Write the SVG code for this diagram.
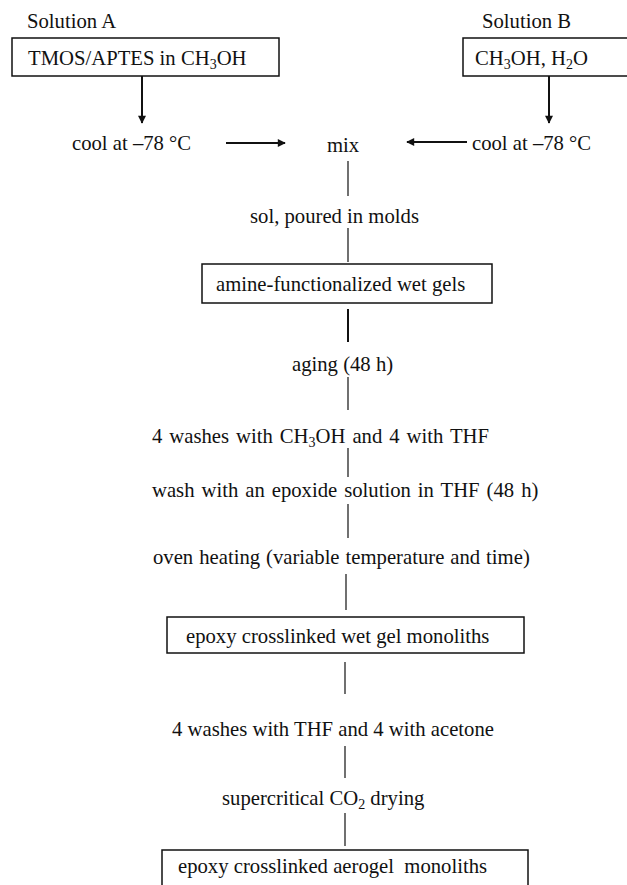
<svg xmlns="http://www.w3.org/2000/svg" width="627" height="885" viewBox="0 0 627 885">
<defs>
<style>
text{font-family:"Liberation Serif","Times New Roman",serif;font-size:20.7px;fill:#111;white-space:pre}
.box{fill:#fff;stroke:#111;stroke-width:1.5}
.ln{stroke:#111;stroke-width:1.2;fill:none}
.ar{stroke:#111;stroke-width:2;fill:none}
.sub{font-size:14px}
</style>
<marker id="ah" viewBox="0 0 10 10" refX="9" refY="5" markerWidth="10" markerHeight="8" orient="auto" markerUnits="userSpaceOnUse">
<path d="M0,0 L10,5 L0,10 z" fill="#111"/>
</marker>
</defs>
<rect width="627" height="885" fill="#fff"/>
<g id="connectors">
<line class="ar" x1="142" y1="76" x2="142" y2="123" marker-end="url(#ah)"/>
<line class="ar" x1="549" y1="76" x2="549" y2="123" marker-end="url(#ah)"/>
<line class="ar" x1="226" y1="143" x2="285" y2="143" marker-end="url(#ah)"/>
<line class="ar" x1="467" y1="142" x2="407" y2="142" marker-end="url(#ah)"/>
<line class="ln" x1="348" y1="161" x2="348" y2="196"/>
<line class="ln" x1="348" y1="228" x2="348" y2="262"/>
<line class="ln" x1="348" y1="309" x2="348" y2="342" style="stroke-width:2"/>
<line class="ln" x1="348" y1="377" x2="348" y2="410"/>
<line class="ln" x1="348" y1="448" x2="348" y2="477"/>
<line class="ln" x1="348" y1="504" x2="348" y2="538"/>
<line class="ln" x1="346" y1="574" x2="346" y2="610"/>
<line class="ln" x1="345" y1="662" x2="345" y2="694"/>
<line class="ln" x1="345" y1="746" x2="345" y2="778"/>
<line class="ln" x1="345" y1="813" x2="345" y2="846"/>
</g>
<g id="solutionA">
<text x="27" y="28">Solution A</text>
<rect class="box" x="12" y="38" width="267" height="38"/>
<text x="28" y="65">TMOS/APTES in CH<tspan class="sub" dy="4">3</tspan><tspan dy="-4">OH</tspan></text>
</g>
<g id="solutionB">
<text x="482" y="28">Solution B</text>
<rect class="box" x="463" y="38" width="172" height="38"/>
<text x="475" y="65">CH<tspan class="sub" dy="4">3</tspan><tspan dy="-4">OH, H</tspan><tspan class="sub" dy="4">2</tspan><tspan dy="-4">O</tspan></text>
</g>
<g id="coolA"><text x="72" y="150">cool at –78 °C</text></g>
<g id="mix"><text x="327" y="152">mix</text></g>
<g id="coolB"><text x="472" y="150">cool at –78 °C</text></g>
<g id="sol"><text x="250" y="223">sol, poured in molds</text></g>
<g id="amine">
<rect class="box" x="202" y="264" width="290" height="39"/>
<text x="216" y="291">amine-functionalized wet gels</text>
</g>
<g id="aging"><text x="292" y="371">aging (48 h)</text></g>
<g id="wash1"><text x="152" y="443" word-spacing="1.8">4 washes with CH<tspan class="sub" dy="4">3</tspan><tspan dy="-4">OH and 4 with THF</tspan></text></g>
<g id="wash2"><text x="152" y="497" word-spacing="1.8">wash with an epoxide solution in THF (48 h)</text></g>
<g id="oven"><text x="153" y="564" word-spacing="0.8">oven heating (variable temperature and time)</text></g>
<g id="wetgel">
<rect class="box" x="167" y="617" width="357" height="36"/>
<text x="186" y="643">epoxy crosslinked wet gel monoliths</text>
</g>
<g id="wash3"><text x="172" y="736">4 washes with THF and 4 with acetone</text></g>
<g id="scdry"><text x="222" y="805">supercritical CO<tspan class="sub" dy="4">2</tspan><tspan dy="-4"> drying</tspan></text></g>
<g id="aerogel">
<rect class="box" x="162" y="850" width="366" height="60"/>
<text x="178" y="873">epoxy crosslinked aerogel  monoliths</text>
</g>
</svg>
